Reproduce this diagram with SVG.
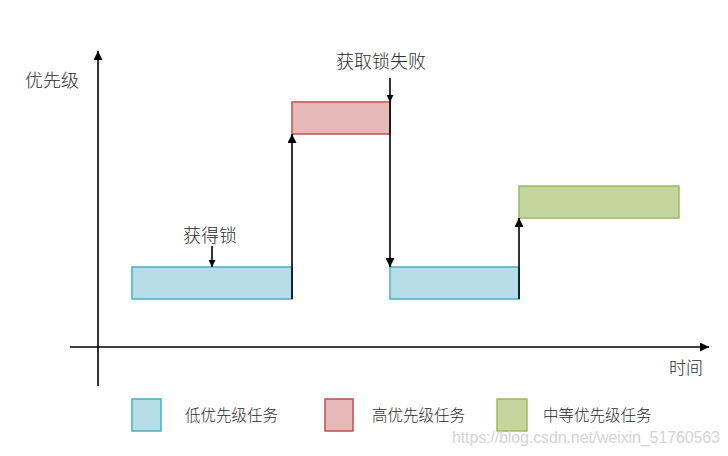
<svg xmlns="http://www.w3.org/2000/svg" width="728" height="456" viewBox="0 0 728 456">
<style>
.t{font-family:"Noto Sans CJK SC","Liberation Sans",sans-serif;fill:#2a2a2a;font-weight:300}
.ln{stroke:#000;stroke-width:1.6;fill:none}
.blue{fill:#b7dde8;stroke:#4bacc6;stroke-width:1.5}
.red{fill:#e6b9b8;stroke:#c0504d;stroke-width:1.5}
.green{fill:#c3d69b;stroke:#9bbb59;stroke-width:1.5}
</style>
<defs>
<marker id="ah" viewBox="0 0 10 10" refX="10" refY="5" markerWidth="7" markerHeight="7" markerUnits="userSpaceOnUse" orient="auto">
<path d="M0,0 L10,5 L0,10 z" fill="#000"/>
</marker>
<marker id="ahBig" viewBox="0 0 10 10" refX="10" refY="5" markerWidth="9" markerHeight="9" markerUnits="userSpaceOnUse" orient="auto">
<path d="M0,0 L10,5 L0,10 z" fill="#000"/>
</marker>
</defs>
<rect width="728" height="456" fill="#fff"/>
<g id="axes">
<line class="ln" x1="98" y1="386" x2="98" y2="51" marker-end="url(#ahBig)"/>
<line class="ln" x1="70" y1="347" x2="709" y2="347" marker-end="url(#ahBig)"/>
<text class="t" x="25" y="87" font-size="18">优先级</text>
<text class="t" x="669" y="374" font-size="17">时间</text>
</g>
<g id="low1"><rect class="blue" x="132" y="267" width="160" height="32"/></g>
<g id="high"><rect class="red" x="292" y="102" width="98" height="32"/></g>
<g id="low2"><rect class="blue" x="390" y="267" width="129" height="32"/></g>
<g id="mid"><rect class="green" x="519" y="186" width="160" height="32"/></g>
<g id="connectors">
<line class="ln" x1="292" y1="299" x2="292" y2="134" marker-end="url(#ahBig)"/>
<line class="ln" x1="390" y1="78" x2="390" y2="102" marker-end="url(#ah)"/>
<line class="ln" x1="390" y1="102" x2="390" y2="267" marker-end="url(#ahBig)"/>
<line class="ln" x1="519" y1="299" x2="519" y2="218" marker-end="url(#ahBig)"/>
<line class="ln" x1="212" y1="246" x2="212" y2="267" marker-end="url(#ah)"/>
</g>
<g id="labels">
<text class="t" x="183" y="242" font-size="18">获得锁</text>
<text class="t" x="336" y="68" font-size="18">获取锁失败</text>
</g>
<g id="legend">
<rect class="blue" x="132" y="399" width="29" height="32"/>
<text class="t" x="185" y="421" font-size="15.5">低优先级任务</text>
<rect class="red" x="325" y="399" width="28" height="32"/>
<text class="t" x="372" y="421" font-size="15.5">高优先级任务</text>
<rect class="green" x="497" y="399" width="30" height="32"/>
<text class="t" x="543" y="421" font-size="15.5">中等优先级任务</text>
</g>
<text x="452" y="443" font-family="Liberation Sans, sans-serif" font-size="16" textLength="268" fill="#d4d4d4">https://blog.csdn.net/weixin_51760563</text>
</svg>
